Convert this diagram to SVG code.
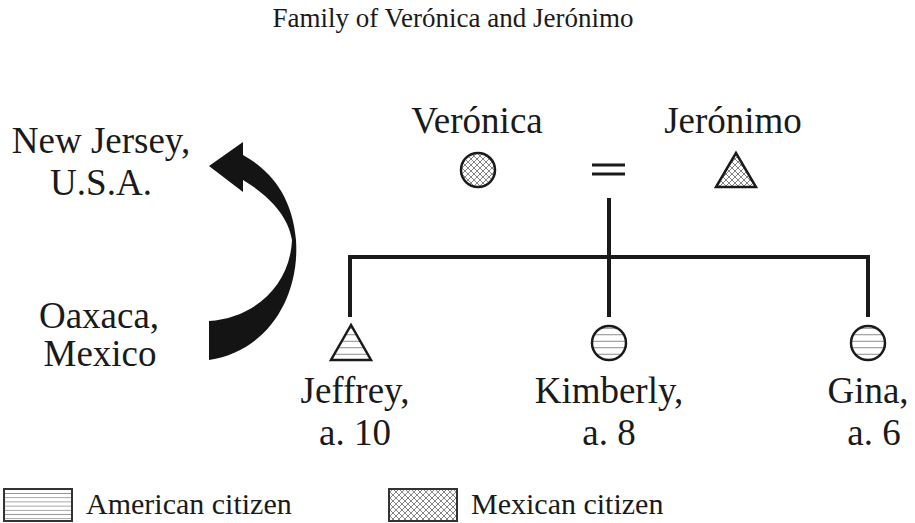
<svg xmlns="http://www.w3.org/2000/svg" width="915" height="523" viewBox="0 0 915 523">
<style>
text{font-family:"Liberation Serif","Times New Roman",serif;fill:#1a1a1a}
.big{font-size:37px;text-anchor:middle}
.leg{font-size:30px}
.sym{stroke:#1a1a1a;stroke-width:2.5}
.line{stroke:#1a1a1a;stroke-width:4;fill:none}
</style>
<defs>
<pattern id="hz" width="8" height="6.5" patternUnits="userSpaceOnUse">
<rect width="8" height="6.5" fill="#fff"/>
<line x1="0" y1="3.25" x2="8" y2="3.25" stroke="#888" stroke-width="1"/>
</pattern>
<pattern id="hzs" width="8" height="4.2" patternUnits="userSpaceOnUse">
<rect width="8" height="4.2" fill="#fff"/>
<line x1="0" y1="2.1" x2="8" y2="2.1" stroke="#999" stroke-width="0.9"/>
</pattern>
<pattern id="xh" width="6" height="6" patternUnits="userSpaceOnUse">
<rect width="6" height="6" fill="#fff"/>
<path d="M0,0 L6,6 M6,0 L0,6" stroke="#777" stroke-width="0.9"/>
</pattern>
</defs>
<text x="453" y="27" style="font-size:27px;text-anchor:middle">Family of Verónica and Jerónimo</text>

<g id="migration">
<path d="M243,142 L209,166 L243,192 L243,180 C268,195 288,215 292,240 C290,285 255,318 209,321 L209,360 C265,352 300,300 296,240 C292,195 270,170 243,155 Z" fill="#141414"/>
<text class="big" x="101" y="153">New Jersey,</text>
<text class="big" x="101" y="195">U.S.A.</text>
<text class="big" x="99" y="328">Oaxaca,</text>
<text class="big" x="100" y="366">Mexico</text>
</g>

<g id="connectors">
<line class="line" x1="592" y1="165" x2="625" y2="165" style="stroke-width:3"/>
<line class="line" x1="592" y1="174" x2="625" y2="174" style="stroke-width:3"/>
<line class="line" x1="609" y1="198" x2="609" y2="317"/>
<polyline class="line" points="350,317 350,257 868,257 868,317" style="stroke-linejoin:miter"/>
</g>

<g id="veronica">
<circle class="sym" cx="478" cy="170" r="17" fill="url(#xh)"/>
<text class="big" x="477" y="133">Verónica</text>
</g>
<g id="jeronimo">
<polygon class="sym" points="736,153 716,187 756,187" fill="url(#xh)" stroke-linejoin="miter"/>
<text class="big" x="733" y="133">Jerónimo</text>
</g>

<g id="jeffrey">
<polygon class="sym" points="351,325 331,360 371,360" fill="url(#hz)"/>
<text class="big" x="355" y="403">Jeffrey,</text>
<text class="big" x="355" y="445">a. 10</text>
</g>
<g id="kimberly">
<circle class="sym" cx="609" cy="343" r="17" fill="url(#hz)"/>
<text class="big" x="609" y="403">Kimberly,</text>
<text class="big" x="609" y="445">a. 8</text>
</g>
<g id="gina">
<circle class="sym" cx="868" cy="343" r="17" fill="url(#hz)"/>
<text class="big" x="868" y="403">Gina,</text>
<text class="big" x="874" y="445">a. 6</text>
</g>

<g id="legend">
<rect x="4" y="489" width="68" height="32" fill="url(#hzs)" stroke="#333" stroke-width="2"/>
<text class="leg" x="86" y="514">American citizen</text>
<rect x="389" y="489" width="68" height="32" fill="url(#xh)" stroke="#333" stroke-width="2"/>
<text class="leg" x="471" y="514">Mexican citizen</text>
</g>
</svg>
